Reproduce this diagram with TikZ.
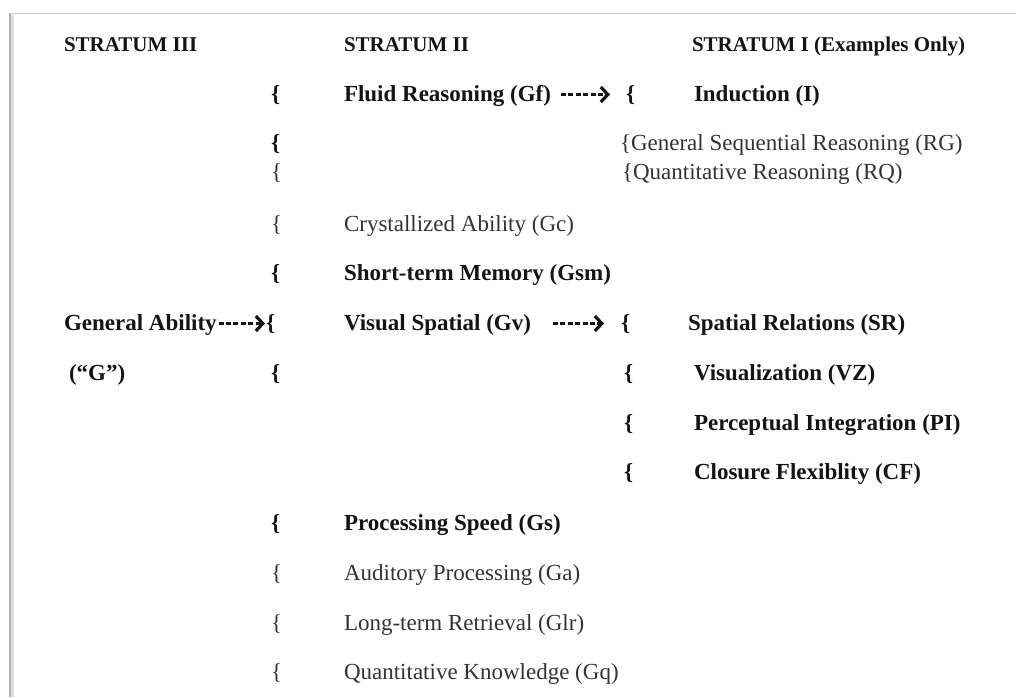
\documentclass[tikz,border=0pt]{standalone}
\usepackage{fontspec}
\setmainfont{Liberation Serif}
\usetikzlibrary{arrows.meta}
\definecolor{ink}{gray}{0.08}
\definecolor{inkreg}{gray}{0.20}
\definecolor{frame}{gray}{0.80}
\begin{document}
\begin{tikzpicture}[x=1pt,y=-1pt,
  lab/.style={anchor=base west, inner sep=0pt, outer sep=0pt},
  boldtxt/.style={lab, text=ink, font=\fontsize{23}{27}\selectfont\bfseries},
  regtxt/.style={lab, text=inkreg, font=\fontsize{23}{27}\selectfont},
  headtxt/.style={lab, text=ink, font=\fontsize{21}{25}\selectfont\bfseries},
  leads/.style={draw=ink, line width=2.6pt, dash pattern=on 5pt off 2.4pt,
    -{Straight Barb[length=7pt,width=15pt,line width=3.2pt]}}
]
% page and frame
\useasboundingbox[fill=white] (0,0) rectangle (1016,697);
\draw[frame, line width=1pt] (10,13) -- (1016,13);
\draw[gray!25, line width=3pt] (12.5,13) -- (12.5,697);
\draw[gray!60, line width=1.6pt] (10,13) -- (10,697);

% column headings
\node[headtxt] (s3) at (64,51) {STRATUM III};
\node[headtxt] (s2) at (344,51) {STRATUM II};
\node[headtxt] (s1) at (692,51) {STRATUM I (Examples Only)};

% stratum III
\node[boldtxt] (ga) at (64,330) {General Ability};
\node[boldtxt] (gq) at (69,380) {(“G”)};

% braces in front of the stratum II abilities
\node[boldtxt] (c1) at (271,101) {\{};
\node[boldtxt] (c2) at (271,150) {\{};
\node[regtxt]  (c3) at (271,179) {\{};
\node[regtxt]  (c4) at (271,231) {\{};
\node[boldtxt] (c5) at (271,280) {\{};
\node[boldtxt] (c6) at (266,330) {\{};
\node[boldtxt] (c7) at (271,380) {\{};
\node[boldtxt] (c10) at (271,530) {\{};
\node[regtxt]  (c11) at (271,580) {\{};
\node[regtxt]  (c12) at (271,630) {\{};
\node[regtxt]  (c13) at (271,679) {\{};

% stratum II
\node[boldtxt] (gf)  at (344,101) {Fluid Reasoning (Gf)};
\node[regtxt]  (gc)  at (344,231) {Crystallized Ability (Gc)};
\node[boldtxt] (gsm) at (344,280) {Short-term Memory (Gsm)};
\node[boldtxt] (gv)  at (344,330) {Visual Spatial (Gv)};
\node[boldtxt] (gs)  at (344,530) {Processing Speed (Gs)};
\node[regtxt]  (gau) at (344,580) {Auditory Processing (Ga)};
\node[regtxt]  (glr) at (344,630) {Long-term Retrieval (Glr)};
\node[regtxt]  (gqk) at (344,679) {Quantitative Knowledge (Gq)};

% stratum I
\node[boldtxt] (b1) at (626,101) {\{};
\node[boldtxt] (ind) at (694,101) {Induction (I)};
\node[regtxt]  (rg) at (620,150) {\{General Sequential Reasoning (RG)};
\node[regtxt]  (rq) at (622,179) {\{Quantitative Reasoning (RQ)};
\node[boldtxt] (b6) at (621,330) {\{};
\node[boldtxt] (sr) at (688,330) {Spatial Relations (SR)};
\node[boldtxt] (b7) at (624,380) {\{};
\node[boldtxt] (vz) at (694,380) {Visualization (VZ)};
\node[boldtxt] (b8) at (624,430) {\{};
\node[boldtxt] (pi) at (694,430) {Perceptual Integration (PI)};
\node[boldtxt] (b9) at (624,479) {\{};
\node[boldtxt] (cf) at (694,479) {Closure Flexiblity (CF)};

% dashed leaders
\draw[leads] ([xshift=2pt,yshift=6.5pt]ga.base east) -- ([xshift=-1pt,yshift=6.5pt]c6.base west);
\draw[leads] ([xshift=10pt,yshift=6.5pt]gf.base east) -- ([xshift=-16pt,yshift=6.5pt]b1.base west);
\draw[leads] ([xshift=22pt,yshift=6.5pt]gv.base east) -- ([xshift=-17pt,yshift=6.5pt]b6.base west);
\end{tikzpicture}
\end{document}
